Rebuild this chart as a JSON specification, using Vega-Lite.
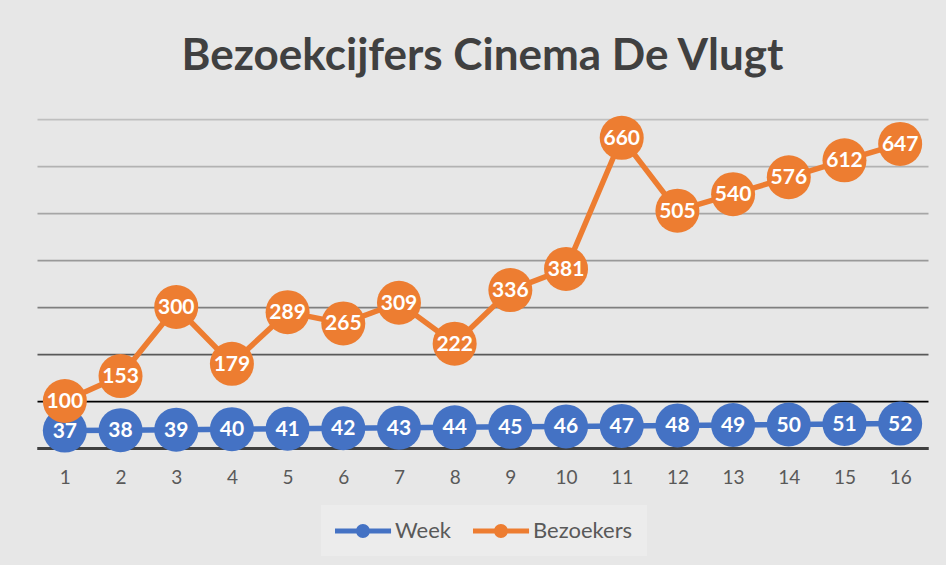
{
  "$schema": "https://vega.github.io/schema/vega-lite/v6.json",
  "width": 891,
  "height": 329,
  "autosize": {"type": "none"},
  "padding": {"left": 37, "top": 119, "right": 18, "bottom": 117},
  "background": "#e7e7e7",
  "title": {
    "text": "Bezoekcijfers Cinema De Vlugt",
    "font": "Lato",
    "fontSize": 44,
    "fontWeight": "bold",
    "color": "#404040",
    "anchor": "middle",
    "offset": 37
  },
  "config": {
    "view": {"stroke": null},
    "font": "Lato"
  },
  "data": {
    "values": [
      {"x": 1, "series": "Week", "value": 37},
      {"x": 2, "series": "Week", "value": 38},
      {"x": 3, "series": "Week", "value": 39},
      {"x": 4, "series": "Week", "value": 40},
      {"x": 5, "series": "Week", "value": 41},
      {"x": 6, "series": "Week", "value": 42},
      {"x": 7, "series": "Week", "value": 43},
      {"x": 8, "series": "Week", "value": 44},
      {"x": 9, "series": "Week", "value": 45},
      {"x": 10, "series": "Week", "value": 46},
      {"x": 11, "series": "Week", "value": 47},
      {"x": 12, "series": "Week", "value": 48},
      {"x": 13, "series": "Week", "value": 49},
      {"x": 14, "series": "Week", "value": 50},
      {"x": 15, "series": "Week", "value": 51},
      {"x": 16, "series": "Week", "value": 52},
      {"x": 1, "series": "Bezoekers", "value": 100},
      {"x": 2, "series": "Bezoekers", "value": 153},
      {"x": 3, "series": "Bezoekers", "value": 300},
      {"x": 4, "series": "Bezoekers", "value": 179},
      {"x": 5, "series": "Bezoekers", "value": 289},
      {"x": 6, "series": "Bezoekers", "value": 265},
      {"x": 7, "series": "Bezoekers", "value": 309},
      {"x": 8, "series": "Bezoekers", "value": 222},
      {"x": 9, "series": "Bezoekers", "value": 336},
      {"x": 10, "series": "Bezoekers", "value": 381},
      {"x": 11, "series": "Bezoekers", "value": 660},
      {"x": 12, "series": "Bezoekers", "value": 505},
      {"x": 13, "series": "Bezoekers", "value": 540},
      {"x": 14, "series": "Bezoekers", "value": 576},
      {"x": 15, "series": "Bezoekers", "value": 612},
      {"x": 16, "series": "Bezoekers", "value": 647}
    ]
  },
  "encoding": {
    "x": {
      "field": "x",
      "type": "ordinal",
      "axis": {
        "title": null,
        "labelAngle": 0,
        "ticks": false,
        "domainColor": "#404040",
        "domainWidth": 3,
        "labelFont": "Lato",
        "labelFontSize": 19,
        "labelColor": "#595959",
        "labelPadding": 20,
        "grid": false
      }
    },
    "y": {
      "field": "value",
      "type": "quantitative",
      "scale": {"domain": [0, 700], "nice": false},
      "axis": {
        "title": null,
        "labels": false,
        "ticks": false,
        "domain": false,
        "values": [0, 100, 200, 300, 400, 500, 600, 700],
        "gridColor": {
          "condition": [
            {"test": "datum.value === 0", "value": "#404040"},
            {"test": "datum.value === 100", "value": "#000000"},
            {"test": "datum.value === 200", "value": "#595959"},
            {"test": "datum.value === 300", "value": "#7f7f7f"},
            {"test": "datum.value === 400", "value": "#999999"},
            {"test": "datum.value === 500", "value": "#a6a6a6"},
            {"test": "datum.value === 600", "value": "#b2b2b2"}
          ],
          "value": "#bfbfbf"
        },
        "gridWidth": {
          "condition": {"test": "datum.value === 0", "value": 3},
          "value": 1.75
        }
      }
    }
  },
  "layer": [
    {
      "mark": {"type": "line", "strokeWidth": 5.5},
      "encoding": {
        "color": {
          "field": "series",
          "type": "nominal",
          "scale": {"domain": ["Week", "Bezoekers"], "range": ["#4472c4", "#ed7d31"]},
          "legend": {
            "title": null,
            "orient": "none",
            "legendX": 284,
            "legendY": 386,
            "direction": "horizontal",
            "padding": 14,
            "fillColor": "#ececec",
            "labelFont": "Lato",
            "labelFontSize": 22,
            "labelColor": "#595959",
            "labelOffset": 36,
            "columnPadding": 22,
            "symbolType": "M-1,-0.21L3.67,-0.21L3.67,0.21L-1,0.21ZM0.75,0A0.58,0.58,0,1,1,1.91,0A0.58,0.58,0,1,1,0.75,0Z",
            "symbolSize": 576,
            "symbolStrokeWidth": 0,
            "encode": {
              "symbols": {
                "update": {
                  "fill": {"scale": "color", "field": "value"},
                  "strokeWidth": {"value": 0}
                }
              }
            }
          }
        }
      }
    },
    {
      "mark": {"type": "point", "filled": true, "opacity": 1, "size": 1936},
      "encoding": {
        "color": {"field": "series", "type": "nominal"},
        "shape": {"value": "circle"}
      }
    },
    {
      "mark": {
        "type": "text",
        "font": "Lato",
        "fontSize": 21,
        "fontWeight": "bold",
        "color": "#ffffff",
        "align": "center",
        "baseline": "middle",
        "dy": 1
      },
      "encoding": {
        "text": {"field": "value", "type": "quantitative"}
      }
    }
  ]
}
